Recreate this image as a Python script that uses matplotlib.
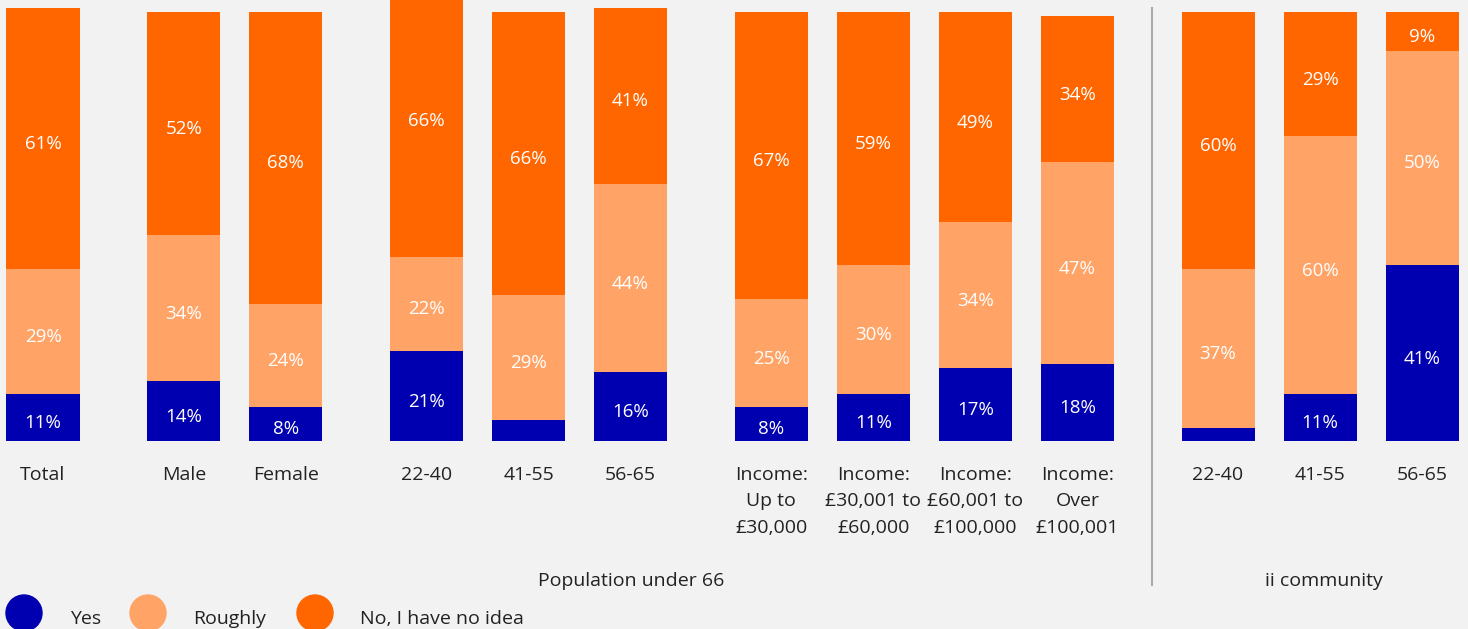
import matplotlib
matplotlib.use("Agg")
import matplotlib.pyplot as plt
from matplotlib.patches import Ellipse

plt.rcParams['font.family'] = ['Open Sans', 'DejaVu Sans']

# Survey results (percent of respondents)
categories = ["Total", "Male", "Female", "22-40", "41-55", "56-65",
              "Income:\nUp to\n£30,000", "Income:\n£30,001 to\n£60,000",
              "Income:\n£60,001 to\n£100,000", "Income:\nOver\n£100,001",
              "22-40", "41-55", "56-65"]
yes_vals = [11, 14, 8, 21, 5, 16, 8, 11, 17, 18, 3, 11, 41]
roughly_vals = [29, 34, 24, 22, 29, 44, 25, 30, 34, 47, 37, 60, 50]
no_vals = [61, 52, 68, 66, 66, 41, 67, 59, 49, 34, 60, 29, 9]
series_names = ["Yes", "Roughly", "No, I have no idea"]
group_names = ["Population under 66", "ii community"]

colors = ["#0000B0", "#FFA366", "#FF6600"]
bg = "#F2F2F2"
text_col = "#222222"

# bar positions: unit spacing inside a group, wider gap between groups
group_sizes = [1, 2, 3, 4, 3]
gap = 1.38
positions = []
x = 0.0
for gi, n in enumerate(group_sizes):
    if gi > 0:
        x += gap - 1
    for _ in range(n):
        positions.append(x)
        x += 1
width = 0.716

fig = plt.figure(figsize=(14.68, 6.29), dpi=100, facecolor=bg)
ax = fig.add_axes([0, 0, 1, 1])
ax.set_facecolor(bg)
px_per_unit = 102.0
px_per_pct = 4.29
x0_px, base_px = 43, 441


def px_x(p):
    return (p - x0_px) / px_per_unit


def px_y(p):
    return (base_px - p) / px_per_pct


ax.set_xlim(px_x(0), px_x(1468))
ax.set_ylim(px_y(629), px_y(0))
ax.axis("off")

bottom = [0] * len(categories)
for vals, col in zip([yes_vals, roughly_vals, no_vals], colors):
    ax.bar(positions, vals, width=width, bottom=bottom, color=col,
           edgecolor="none", zorder=2)
    for xp, b, v in zip(positions, bottom, vals):
        if v >= 8:
            ax.text(xp, b + v / 2 - 1.3, f"{v}%", ha="center", va="center",
                    color="white", fontsize=13.5, zorder=3)
    bottom = [b + v for b, v in zip(bottom, vals)]

# category labels under each bar, one text per line
line_step = 26.5
for xp, cat in zip(positions, categories):
    for i, line in enumerate(cat.split("\n")):
        ax.text(xp, px_y(475 + i * line_step), line, ha="center", va="center",
                color=text_col, fontsize=14)

# group labels and separator
ax.text(px_x(631), px_y(581), group_names[0], ha="center", va="center",
        color=text_col, fontsize=14)
ax.text(px_x(1324), px_y(581), group_names[1], ha="center", va="center",
        color=text_col, fontsize=14)
ax.plot([px_x(1152)] * 2, [px_y(585), px_y(8)], color="#AAAAAA", lw=1.5,
        zorder=1)

# legend: filled circles with labels
leg_items = [(24, 70), (148, 193), (315, 360)]
for (cx, tx), col, name in zip(leg_items, colors, series_names):
    ax.add_patch(Ellipse((px_x(cx), px_y(613)), 36 / px_per_unit,
                         36 / px_per_pct, color=col, zorder=2, clip_on=False))
    ax.text(px_x(tx), px_y(619), name, ha="left", va="center",
            color=text_col, fontsize=14)

fig.savefig("out.png", dpi=100, facecolor=bg)
